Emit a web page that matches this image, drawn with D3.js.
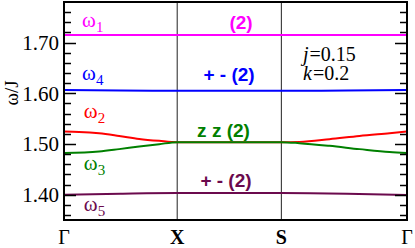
<!DOCTYPE html>
<html>
<head>
<meta charset="utf-8">
<script src="https://cdn.jsdelivr.net/npm/d3@7"></script>
<style>
	body { margin: 0; background: #fff; }
	svg { display: block; }
	text { font-family: "Liberation Serif", "Times New Roman", serif; }
	.tickLabel { font-size: 21px; }
	.kLabel { font-size: 20px; }
	.bandName { font-size: 21px; }
	text.degLabel { font-family: "Liberation Sans", Arial, sans-serif; font-size: 19px; font-weight: bold; }
	.param { font-size: 20px; }
</style>
</head>
<body>
<svg id="chart" width="415" height="248"></svg>
<script>
// high symmetry points along the path (k distance) and their labels
var kPoints = [0, 1, 1.92, 3.03];
var kNames = ['Γ', 'X', 'S', 'Γ'];

// omega/J bands as [k, omega]
var omega1 = [[0, 1.715], [1, 1.715], [1.92, 1.715], [3.03, 1.715]];
var omega4 = [[0, 1.6063], [0.5, 1.6052], [1, 1.6049], [1.92, 1.6049], [2.5, 1.6053], [3.03, 1.6063]];
var omega2 = [[0, 1.5244], [0.133, 1.5238], [0.31, 1.5212], [0.487, 1.5159], [0.664, 1.510], [0.841, 1.5061], [1, 1.5035],
	[1.92, 1.5035], [2.079, 1.5041], [2.345, 1.5094], [2.61, 1.5159], [2.876, 1.5212], [3.03, 1.5244]];
var omega3 = [[0, 1.482], [0.31, 1.4851], [0.487, 1.4898], [0.664, 1.4949], [0.841, 1.4996], [1, 1.5035],
	[1.92, 1.5035], [2.079, 1.5016], [2.345, 1.4963], [2.61, 1.4898], [2.876, 1.4839], [3.03, 1.482]];
var omega5 = [[0, 1.400], [0.5, 1.402], [1, 1.4033], [1.92, 1.4033], [2.5, 1.402], [3.03, 1.3994]];

var bands = [
	{name: '1', pts: omega1, color: '#ff00ff'},
	{name: '4', pts: omega4, color: '#0000ff'},
	{name: '2', pts: omega2, color: '#ff0000'},
	{name: '3', pts: omega3, color: '#008000'},
	{name: '5', pts: omega5, color: '#6b0a4d'}
];

var yMajor = [1.40, 1.50, 1.60, 1.70];
var yMinor = d3.range(1.36, 1.775, 0.02);

// band labels and degeneracy notes
var bandLabels = [
	{sub: '1', k: 0.16, w: 1.730, color: '#ff00ff'},
	{sub: '4', k: 0.16, w: 1.626, color: '#0000ff'},
	{sub: '2', k: 0.175, w: 1.551, color: '#ff0000'},
	{sub: '3', k: 0.175, w: 1.449, color: '#008000'},
	{sub: '5', k: 0.175, w: 1.367, color: '#6b0a4d'}
];
var degLabels = [
	{text: '(2)', k: 1.564, w: 1.727, color: '#ff00ff'},
	{text: '+ - (2)', k: 1.458, w: 1.624, color: '#0000ff'},
	{text: 'z z (2)', k: 1.409, w: 1.514, color: '#008000'},
	{text: '+ - (2)', k: 1.431, w: 1.416, color: '#6b0a4d'}
];

var margin = {left: 64, right: 8, top: 2, bottom: 28};
var width = 415, height = 248;

var x = d3.scaleLinear()
	.domain([0, 3.03])
	.range([margin.left, width - margin.right]);

var y = d3.scaleLinear()
	.domain([1.35, 1.78])
	.range([height - margin.bottom, margin.top]);

var svg = d3.select('#chart');

// vertical lines at X and S
svg.selectAll('line.kLine')
	.data(kPoints.slice(1, 3))
	.enter()
	.append('line')
	.attr('class', 'kLine')
	.attr('x1', d => x(d))
	.attr('x2', d => x(d))
	.attr('y1', y.range()[1])
	.attr('y2', y.range()[0])
	.attr('stroke', '#222')
	.attr('stroke-width', 1);

// bands
var line = d3.line()
	.x(d => x(d[0]))
	.y(d => y(d[1]))
	.curve(d3.curveMonotoneX);

svg.selectAll('path.band')
	.data(bands)
	.enter()
	.append('path')
	.attr('class', 'band')
	.attr('d', d => line(d.pts))
	.attr('fill', 'none')
	.attr('stroke', d => d.color)
	.attr('stroke-width', 2);

// ticks, left and right, pointing inward
var ticks = yMinor.map(v => ({v: v, major: false}))
	.filter(t => !yMajor.some(m => Math.abs(m - t.v) < 1e-6))
	.concat(yMajor.map(v => ({v: v, major: true})));

[x.range()[0], x.range()[1]].forEach(function(x0, i) {
	var dir = i == 0 ? 1 : -1;
	svg.selectAll('line.tick' + i)
		.data(ticks)
		.enter()
		.append('line')
		.attr('class', 'tick' + i)
		.attr('x1', x0)
		.attr('x2', d => x0 + dir * (d.major ? 12 : 7))
		.attr('y1', d => Math.round(y(d.v)) + 0.5)
		.attr('y2', d => Math.round(y(d.v)) + 0.5)
		.attr('stroke', '#000')
		.attr('stroke-width', 1.5);
});

svg.selectAll('text.tickLabel')
	.data(yMajor)
	.enter()
	.append('text')
	.attr('class', 'tickLabel')
	.attr('x', x.range()[0] - 5)
	.attr('y', d => y(d))
	.attr('dy', '0.35em')
	.attr('text-anchor', 'end')
	.text(d => d.toFixed(2));

// frame
svg.append('rect')
	.attr('x', x.range()[0])
	.attr('y', y.range()[1])
	.attr('width', x.range()[1] - x.range()[0])
	.attr('height', y.range()[0] - y.range()[1])
	.attr('fill', 'none')
	.attr('stroke', '#000')
	.attr('stroke-width', 2);

// k labels
svg.selectAll('text.kLabel')
	.data(kPoints)
	.enter()
	.append('text')
	.attr('class', 'kLabel')
	.attr('x', d => x(d))
	.attr('y', 244)
	.attr('text-anchor', 'middle')
	.attr('font-weight', (d, i) => (i == 1 || i == 2) ? 'bold' : 'normal')
	.text((d, i) => kNames[i]);

// y axis title
svg.append('text')
	.attr('transform', 'translate(18,' + 93 + ') rotate(-90)')
	.attr('text-anchor', 'middle')
	.attr('font-size', '19px')
	.text('ω/J');

// band names
var names = svg.selectAll('text.bandName')
	.data(bandLabels)
	.enter()
	.append('text')
	.attr('class', 'bandName')
	.attr('x', d => x(d.k))
	.attr('y', d => y(d.w))
	.attr('fill', d => d.color);
names.append('tspan').text('ω');
names.append('tspan')
	.attr('dy', 5)
	.attr('font-size', '15px')
	.text(d => d.sub);

svg.selectAll('text.degLabel')
	.data(degLabels)
	.enter()
	.append('text')
	.attr('class', 'degLabel')
	.attr('x', d => x(d.k))
	.attr('y', d => y(d.w))
	.attr('text-anchor', 'middle')
	.attr('fill', d => d.color)
	.text(d => d.text);

// parameters
var p1 = svg.append('text').attr('class', 'param').attr('x', 303).attr('y', 61);
p1.append('tspan').attr('font-style', 'italic').text('j');
p1.append('tspan').attr('dx', 1).text('=0.15');
var p2 = svg.append('text').attr('class', 'param').attr('x', 303).attr('y', 80);
p2.append('tspan').attr('font-style', 'italic').text('k');
p2.append('tspan').attr('dx', 1).text('=0.2');
</script>
</body>
</html>
